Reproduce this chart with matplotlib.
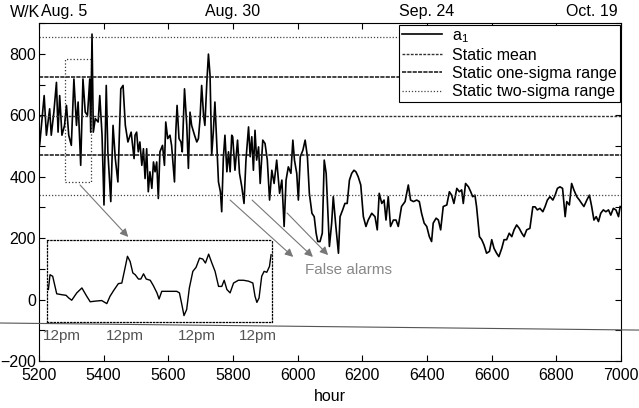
import matplotlib
matplotlib.use("Agg")
import matplotlib.pyplot as plt
from matplotlib.lines import Line2D
from matplotlib.patches import Rectangle
from matplotlib.ticker import MultipleLocator
import matplotlib.transforms as mtransforms

plt.rcParams['font.family'] = ['Liberation Sans', 'DejaVu Sans']
plt.rcParams['mathtext.default'] = 'regular'

# a1 series (hour, W/K)
hours = [5200, 5202, 5216, 5223, 5233, 5238, 5246, 5254, 5259, 5264, 5271, 5279, 5285, 5292,
         5300, 5308, 5316, 5321, 5329, 5336, 5343, 5350, 5357, 5360, 5364, 5368, 5374, 5383,
         5388, 5395, 5401, 5408, 5413, 5422, 5429, 5436, 5444, 5453, 5460, 5467, 5475, 5485,
         5494,
         5497, 5502, 5507, 5512, 5518, 5523, 5528, 5533, 5538, 5543, 5549, 5554, 5559, 5564,
         5569, 5574, 5582, 5588, 5592, 5598, 5605, 5610, 5619, 5623, 5627, 5633, 5639, 5643,
         5650, 5657, 5662, 5667, 5672, 5681, 5688, 5693, 5698, 5703, 5709, 5713, 5719, 5724,
         5729, 5734, 5739, 5744, 5750, 5755, 5761, 5765, 5770, 5775, 5781, 5786, 5791, 5796,
         5799, 5806, 5814, 5820, 5827, 5834, 5840, 5848, 5853, 5858, 5863, 5868, 5873, 5879,
         5884, 5892, 5899, 5906, 5913, 5920, 5927, 5935, 5944, 5951, 5958, 5964, 5971, 5979,
         5985, 5990, 5997, 6002, 6008, 6016, 6023, 6030, 6036, 6044, 6051, 6057, 6062, 6069,
         6076, 6082, 6088, 6093, 6098,
         6105, 6110, 6118, 6126, 6131, 6139, 6146, 6153, 6160, 6167, 6174, 6180, 6187, 6195,
         6198, 6203, 6211, 6218, 6229, 6239, 6246, 6252, 6260, 6267, 6273, 6280, 6287, 6296,
         6304, 6311, 6321, 6332, 6342, 6349, 6358, 6368, 6376, 6383, 6391, 6399, 6407, 6414,
         6419, 6428, 6435, 6442, 6450, 6461, 6469, 6476, 6483, 6492, 6500, 6507, 6512, 6519,
         6528, 6535, 6541, 6548, 6553, 6562, 6569, 6576, 6584, 6593, 6600, 6607, 6615, 6622,
         6631, 6638, 6646, 6654, 6662, 6669, 6677, 6685, 6693, 6700, 6708, 6718, 6727, 6734,
         6741, 6749, 6758, 6765, 6772, 6780, 6789, 6796, 6803, 6811, 6819, 6827, 6832, 6840,
         6847, 6854, 6863, 6871, 6878, 6885, 6894, 6902, 6909, 6916, 6923, 6930, 6937, 6945,
         6953, 6961, 6968, 6976, 6984, 6992, 6997]
a1 = [545, 502, 664, 535, 621, 535, 610, 707, 545, 664, 535, 567, 632, 535,
      502, 718, 567, 643, 437, 718, 610, 600, 718, 545, 864, 545, 589, 578,
      664, 535, 308, 697, 481, 319, 567, 459, 383, 686, 697, 567, 513, 545,
      459,
      535, 545, 481, 513, 437, 491, 394, 491, 351, 416, 362, 448, 416, 448,
      329, 481, 502, 437, 578, 524, 535, 502, 383, 545, 632, 524, 513, 481,
      686, 567, 427, 610, 567, 535, 513, 524, 589, 697, 599, 567, 707, 799,
      729, 470, 545, 643, 502, 383, 351, 286, 459, 535, 416, 481, 416, 535,
      530, 421, 519, 411, 368, 313, 454, 562, 465, 530, 421, 551, 454, 497,
      378, 519, 508, 454, 324, 421, 378, 454, 346, 389, 238, 389, 432, 411,
      519, 454, 411, 324, 465, 486, 519, 465, 346, 281, 270, 216, 189, 189,
      216, 454, 411, 292, 173,
      249, 335, 238, 151, 270, 292, 313, 313, 389, 411, 421, 416, 400, 373,
      335, 270, 238, 259, 281, 270, 227, 346, 313, 324, 259, 335, 238, 259,
      259, 238, 303, 319, 373, 324, 319, 324, 319, 281, 249, 238, 205, 189,
      249, 265, 259, 227, 303, 308, 351, 340, 313, 362, 351, 357, 313, 378,
      367, 351, 335, 340, 303, 205, 195, 178, 151, 157, 195, 167, 151, 140,
      167, 195, 195, 216, 205, 227, 243, 232, 216, 205, 227, 232, 302, 302,
      292, 297, 286, 303, 324, 335, 324, 340, 362, 367, 362, 270, 319, 308,
      378, 357, 335, 324, 313, 303, 324, 340, 303, 259, 270, 254, 281, 292,
      286, 292, 275, 297, 292, 270, 303]

# static statistics
static_mean = 598
static_sigma = 128

# zoomed detail shown in the inset
inset_hours = [5280.5, 5281.1, 5282.1, 5283.6, 5285.5, 5287.1, 5288.0, 5289.2, 5291.1, 5293.0,
               5294.8, 5296.1, 5297.9, 5300.4, 5302.3, 5303.5, 5304.8, 5306.6, 5307.9, 5309.1,
               5310.0, 5311.0, 5312.0, 5312.9, 5314.1, 5315.0, 5316.0, 5317.0, 5318.5, 5319.7,
               5321.0, 5321.8, 5322.8, 5324.7, 5326.5, 5328.4, 5329.4, 5330.3, 5331.1, 5332.1,
               5333.1, 5334.4, 5335.6, 5336.9, 5338.1, 5339.1, 5340.3, 5341.5, 5342.7, 5344.0,
               5345.2, 5346.1, 5347.1, 5348.3, 5349.6, 5351.4, 5353.3, 5355.2, 5356.8, 5357.6,
               5358.3, 5359.1, 5360.1, 5361.0, 5362.0, 5363.0, 5363.6]
inset_vals = [33, 81, 76, 19, 16, 14, 6, -2, 22, 38,
              11, -7, -5, -3, -13, 11, 29, 52, 54, 103,
              141, 124, 87, 81, 67, 67, 84, 67, 63, 45,
              22, 2, 27, 27, 27, 27, 22, -16, -52, -32,
              38, 92, 105, 135, 132, 119, 148, 119, 92, 43,
              43, 63, 33, 22, 54, 63, 63, 60, 54, 11,
              -9, 5, 76, 92, 89, 108, 146]
inset_ticks = [5285.6, 5309.1, 5336.0, 5358.8]

date_hours = [5200, 5800, 6400, 7000]
date_labels = ['Aug. 5', 'Aug. 30', 'Sep. 24', 'Oct. 19']

# false alarm arrows: (start hour, start value, end hour, end value)
arrows = [(5327, 373, 5476, 204),
          (5791, 324, 5986, 139),
          (5859, 324, 6047, 139),
          (5967, 282, 6094, 145)]

fig = plt.figure(figsize=(6.39, 4.08), dpi=100)
ax = fig.add_axes([0.061, 0.115, 0.911, 0.8285])

ax.plot(hours, a1, color='black', lw=1.2, label='a$_1$')
ax.axhline(static_mean, color='#333333', lw=1.0, ls=(0, (2, 1)), label='Static mean')
ax.axhline(static_mean + static_sigma, color='#222222', lw=1.2, ls=(0, (2.5, 0.7)),
           label='Static one-sigma range')
ax.axhline(static_mean - static_sigma, color='#222222', lw=1.2, ls=(0, (2.5, 0.7)))
ax.axhline(static_mean + 2 * static_sigma, color='#444444', lw=0.9, ls=(0, (1, 1.5)),
           label='Static two-sigma range')
ax.axhline(static_mean - 2 * static_sigma, color='#444444', lw=0.9, ls=(0, (1, 1.5)))

ax.set_xlim(5200, 7000)
ax.set_ylim(-200, 900)
ax.xaxis.set_major_locator(MultipleLocator(200))
ax.yaxis.set_major_locator(MultipleLocator(200))
ax.yaxis.set_minor_locator(MultipleLocator(100))
ax.tick_params(which='both', direction='in', top=True, right=True, length=4,
               labelsize=11.5, width=0.8)
ax.tick_params(axis='y', pad=2)
ax.tick_params(axis='x', pad=5)
ax.set_xlabel('hour', fontsize=11.5, labelpad=4)

# zoom box and inset
ax.add_patch(Rectangle((5280, 383), 82, 401, fill=False, ls=':', lw=0.9, ec='#333333'))
ins = ax.inset_axes([5225, -73, 696, 268], transform=ax.transData)
ins.plot(inset_hours, inset_vals, color='black', lw=1.0)
ins.set_xlim(5280, 5364)
ins.set_ylim(-73, 195)
ins.set_facecolor('none')
for s in ins.spines.values():
    s.set_linestyle(':')
    s.set_linewidth(0.9)
ins.set_yticks([])
ins.set_xticks(inset_ticks)
ins.set_xticklabels(['12pm'] * len(inset_ticks))
ins.tick_params(axis='x', length=0, pad=5, labelsize=11, labelcolor='#555555')

for x0, y0, x1, y1 in arrows:
    ax.annotate('', xy=(x1, y1), xytext=(x0, y0),
                arrowprops=dict(arrowstyle='-|>', color='#777777', lw=0.8,
                                mutation_scale=12, shrinkA=0, shrinkB=0))
ax.text(6023, 97, 'False alarms', fontsize=11, color='#888888', va='center')

# date labels above the axes
trans = mtransforms.blended_transform_factory(ax.transData, ax.transAxes)
aligns = ['left', 'center', 'center', 'right']
for h, lab, ha in zip(date_hours, date_labels, aligns):
    off = 5 if ha == 'left' else (-10 if ha == 'right' else 0)
    ax.text(h + off, 1.013, lab, transform=trans, ha=ha, va='bottom', fontsize=11.5)
fig.text(0.016, 0.97, 'W/K', fontsize=11.5, va='center', ha='left')

leg = ax.legend(loc='upper right', fontsize=11.5, fancybox=False, edgecolor='black',
                framealpha=1, borderaxespad=0.1, handlelength=2.5, labelspacing=0.2,
                borderpad=0.2, handletextpad=0.6)
leg.get_frame().set_linewidth(0.8)

# stray scan line running across the page
fig.add_artist(Line2D([0, 1], [0.2083, 0.191], transform=fig.transFigure,
                      color='#555555', lw=0.8))

fig.savefig('out.png', dpi=100)
